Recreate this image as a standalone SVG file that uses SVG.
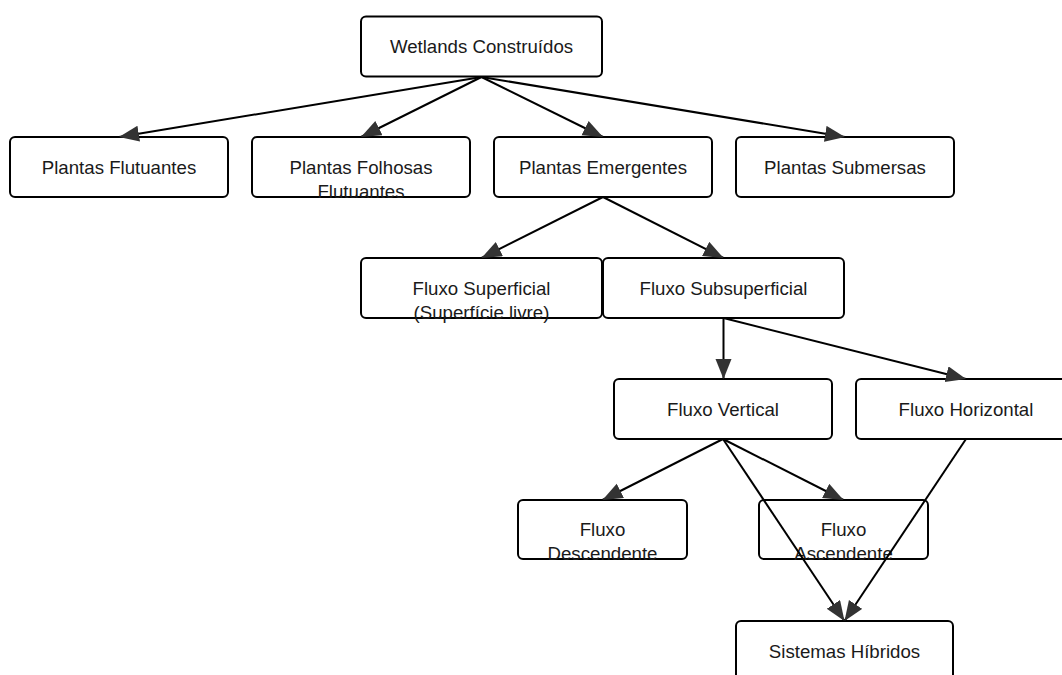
<svg xmlns="http://www.w3.org/2000/svg" width="1062" height="675" viewBox="0 0 1062 675">
<style>
.box{fill:#fff;stroke:#000;stroke-width:2}
.lbl{font-family:"Liberation Sans",Arial,sans-serif;font-size:18.67px;fill:#1a1a1a;text-anchor:middle}
.edge{fill:none;stroke:#000;stroke-width:2}
</style>
<defs>
<marker id="arr" markerUnits="userSpaceOnUse" markerWidth="22" markerHeight="18" refX="20" refY="8" orient="auto">
<path d="M0,0 L20,8 L0,16 Z" fill="#333"/>
</marker>
</defs>
<rect width="1062" height="675" fill="#fff"/>
<g id="n-wetlands"><rect class="box" x="361" y="16.5" width="241" height="60" rx="5"/><text class="lbl" x="481.5" y="53">Wetlands Construídos</text></g>
<g id="n-flutuantes"><rect class="box" x="10" y="137" width="218" height="60" rx="5"/><text class="lbl" x="119" y="173.5">Plantas Flutuantes</text></g>
<g id="n-folhosas"><rect class="box" x="252" y="137" width="218" height="60" rx="5"/><text class="lbl" x="361" y="173.5">Plantas Folhosas</text><text class="lbl" x="361" y="198">Flutuantes</text></g>
<g id="n-emergentes"><rect class="box" x="494" y="137" width="218" height="60" rx="5"/><text class="lbl" x="603" y="173.5">Plantas Emergentes</text></g>
<g id="n-submersas"><rect class="box" x="736" y="137" width="218" height="60" rx="5"/><text class="lbl" x="845" y="173.5">Plantas Submersas</text></g>
<g id="n-superficial"><rect class="box" x="361" y="258" width="241" height="60" rx="5"/><text class="lbl" x="481.5" y="294.5">Fluxo Superficial</text><text class="lbl" x="481.5" y="319">(Superfície livre)</text></g>
<g id="n-subsuperficial"><rect class="box" x="603" y="258" width="241" height="60" rx="5"/><text class="lbl" x="723.5" y="294.5">Fluxo Subsuperficial</text></g>
<g id="n-vertical"><rect class="box" x="614" y="379" width="218" height="60" rx="5"/><text class="lbl" x="723" y="415.5">Fluxo Vertical</text></g>
<g id="n-horizontal"><rect class="box" x="856" y="379" width="220" height="60" rx="5"/><text class="lbl" x="966" y="415.5">Fluxo Horizontal</text></g>
<g id="n-descendente"><rect class="box" x="518" y="500" width="169" height="59" rx="5"/><text class="lbl" x="602.5" y="536">Fluxo</text><text class="lbl" x="602.5" y="560">Descendente</text></g>
<g id="n-ascendente"><rect class="box" x="759" y="500" width="169" height="59" rx="5"/><text class="lbl" x="843.5" y="536">Fluxo</text><text class="lbl" x="843.5" y="560">Ascendente</text></g>
<g id="n-hibridos"><rect class="box" x="736" y="621" width="217" height="60" rx="5"/><text class="lbl" x="844.5" y="657.5">Sistemas Híbridos</text></g>
<g id="connectors">
<path class="edge" marker-end="url(#arr)" d="M481.5,77 L119,137"/>
<path class="edge" marker-end="url(#arr)" d="M481.5,77 L361,137"/>
<path class="edge" marker-end="url(#arr)" d="M481.5,77 L603,137"/>
<path class="edge" marker-end="url(#arr)" d="M481.5,77 L845,137"/>
<path class="edge" marker-end="url(#arr)" d="M603,197 L481.5,258"/>
<path class="edge" marker-end="url(#arr)" d="M603,197 L723.5,258"/>
<path class="edge" marker-end="url(#arr)" d="M723.5,318 L723.5,379"/>
<path class="edge" marker-end="url(#arr)" d="M723.5,318 L966,379"/>
<path class="edge" marker-end="url(#arr)" d="M723,439 L602.5,500"/>
<path class="edge" marker-end="url(#arr)" d="M723,439 L843.5,500"/>
<path class="edge" marker-end="url(#arr)" d="M723,439 L844.5,621"/>
<path class="edge" marker-end="url(#arr)" d="M966,439 L844.5,621"/>
</g>
</svg>
